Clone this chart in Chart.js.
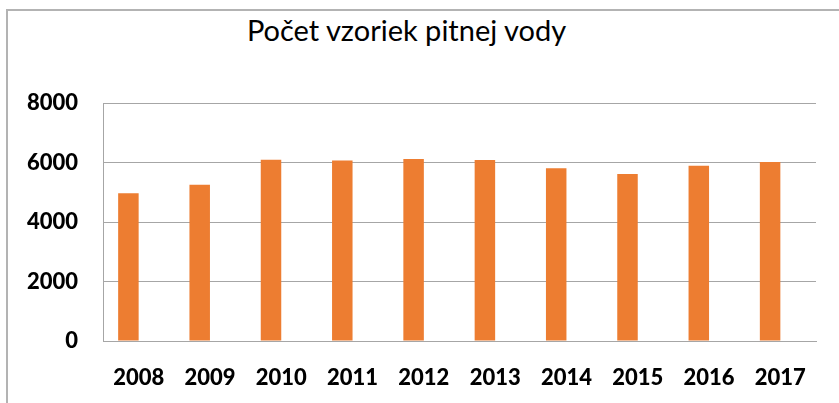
<!DOCTYPE html>
<html>
<head>
<meta charset="utf-8">
<script src="https://cdn.jsdelivr.net/npm/chart.js@4.4.0/dist/chart.umd.min.js"></script>
<style>
  html, body { margin: 0; padding: 0; background: #fff; }
  .wrap { position: relative; width: 839px; height: 403px; overflow: hidden; }
  .frame { position: absolute; left: 6px; top: 9px; width: 900px; height: 500px;
           border-left: 2px solid #b3b3b3; border-top: 2px solid #b3b3b3; }
  .title { position: absolute; left: 0; top: 12px; width: 813px; text-align: center;
           font-family: Lato, sans-serif; font-size: 29px; color: #000; }
  canvas { position: absolute; left: 0; top: 0; }
</style>
</head>
<body>
<div class="wrap">
  <div class="frame"></div>
  <div class="title">Počet vzoriek pitnej vody</div>
  <canvas id="water_chart" width="839" height="403"></canvas>
</div>
<script>
// DATA
const years = ["2008", "2009", "2010", "2011", "2012", "2013", "2014", "2015", "2016", "2017"];
const sample_counts = [4970, 5250, 6090, 6070, 6120, 6080, 5810, 5610, 5890, 6020];
// second excel series is empty, it only reserves the slot right of each bar
const empty_series = [null, null, null, null, null, null, null, null, null, null];
const y_ticks = [0, 2000, 4000, 6000, 8000];

const grid_color = "#a6a6a6";
const tick_font = { family: "Lato", size: 22, weight: 900 };

const ctx = document.getElementById("water_chart").getContext("2d");

new Chart(ctx, {
  type: "bar",
  data: {
    labels: years,
    datasets: [
      {
        label: "Počet vzoriek",
        data: sample_counts,
        backgroundColor: "#ED7D31",
        categoryPercentage: 0.575,
        barPercentage: 1,
      },
      {
        label: "",
        data: empty_series,
        backgroundColor: "#4472C4",
        categoryPercentage: 0.575,
        barPercentage: 1,
      },
    ],
  },
  options: {
    responsive: false,
    animation: false,
    layout: { padding: { left: 7, right: 23, top: 103, bottom: 0 } },
    plugins: {
      legend: { display: false },
      title: { display: false },
      tooltip: { enabled: false },
    },
    scales: {
      x: {
        grid: { display: false },
        border: { display: true, color: grid_color, width: 1 },
        ticks: { color: "#000", font: tick_font, padding: 16, maxRotation: 0 },
        afterFit: (scale) => { scale.height = 62; },
      },
      y: {
        min: y_ticks[0],
        max: y_ticks[y_ticks.length - 1],
        afterBuildTicks: (scale) => { scale.ticks = y_ticks.map((v) => ({ value: v })); },
        grid: { color: grid_color, lineWidth: 1, drawTicks: false },
        border: { display: true, color: grid_color, width: 1 },
        ticks: { color: "#000", font: tick_font, padding: 25, callback: (v) => String(v) },
        afterFit: (scale) => { scale.width = 96; },
      },
    },
  },
});
</script>
</body>
</html>
